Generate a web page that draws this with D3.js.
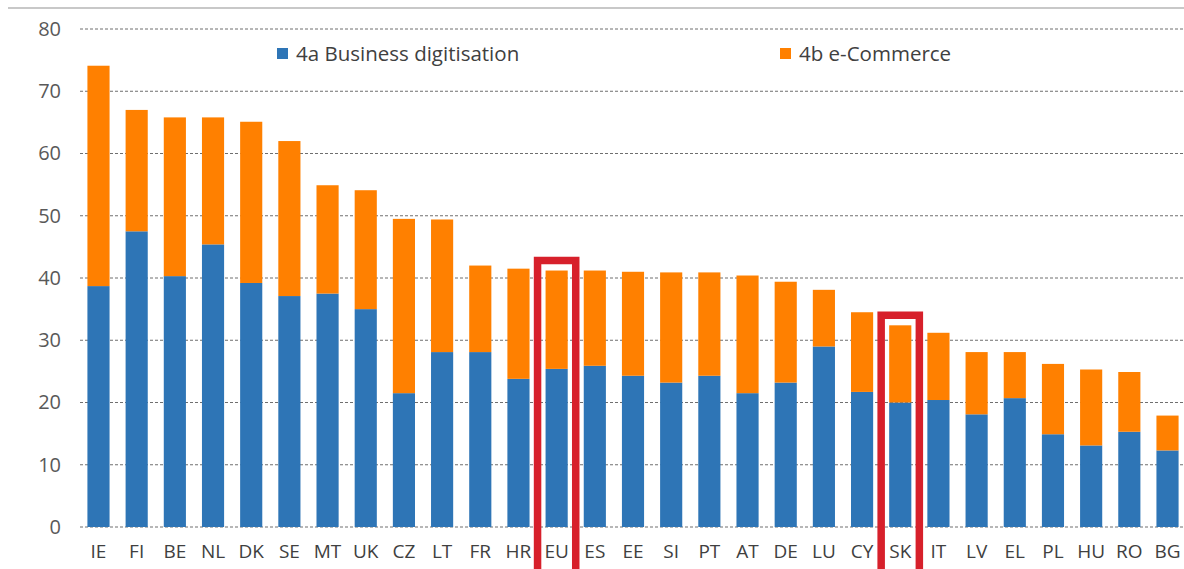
<!DOCTYPE html>
<html><head><meta charset="utf-8">
<script src="https://cdn.jsdelivr.net/npm/d3@7"></script>
<style>
html,body{margin:0;padding:0;background:#fff;}
svg text{font-family:"Open Sans","Liberation Sans",Arial,sans-serif;}
</style></head>
<body>
<script>
const categories = ["IE","FI","BE","NL","DK","SE","MT","UK","CZ","LT","FR","HR","EU","ES","EE","SI","PT","AT","DE","LU","CY","SK","IT","LV","EL","PL","HU","RO","BG"];
const totals =     [74.1,67.0,65.8,65.8,65.1,62.0,54.9,54.1,49.5,49.4,42.0,41.5,41.2,41.2,41.0,40.9,40.9,40.4,39.4,38.1,34.5,32.4,31.2,28.1,28.1,26.2,25.3,24.9,17.9];
const business =   [38.7,47.5,40.3,45.4,39.2,37.1,37.5,35.0,21.5,28.1,28.1,23.8,25.4,25.9,24.3,23.2,24.3,21.5,23.2,29.0,21.7,20.0,20.4,18.1,20.7,14.9,13.1,15.3,12.3];
const ecommerce = totals.map((t,i)=>+(t-business[i]).toFixed(1));
const seriesNames = ["4a Business digitisation","4b e-Commerce"];
const yTicks = [0,10,20,30,40,50,60,70,80];
const highlighted = ["EU","SK"];

const W=1184,H=569;
const svg=d3.select("body").append("svg").attr("width",W).attr("height",H);

const x=d3.scaleBand().domain(categories).range([79.4,1186.6]).paddingInner(0.42).paddingOuter(0.21);
const y=d3.scaleLinear().domain([0,80]).range([527,29]);

// top rule
svg.append("line").attr("x1",8).attr("x2",W).attr("y1",8).attr("y2",8)
  .attr("stroke","#c8c8c8").attr("stroke-width",2);

// gridlines
svg.append("g").selectAll("line").data(yTicks).join("line")
  .attr("x1",80).attr("x2",W).attr("y1",d=>y(d)).attr("y2",d=>y(d))
  .attr("stroke","#6f6f6f").attr("stroke-width",1).attr("stroke-dasharray","3,2");

// y axis labels
const yAxis=d3.axisLeft(y).tickValues(yTicks).tickSize(0).tickPadding(0);
const gy=svg.append("g").attr("transform","translate(61,0)").call(yAxis);
gy.select(".domain").remove();
gy.selectAll("text").attr("font-size",20).attr("fill","#595959");

// bars
const rows=categories.map((c,i)=>({cat:c,b:business[i],e:ecommerce[i]}));
const stack=d3.stack().keys(["b","e"])(rows);
const colors=["#2E75B6","#FF8000"];
svg.append("g").selectAll("g").data(stack).join("g").attr("fill",(d,i)=>colors[i])
  .selectAll("rect").data(d=>d).join("rect")
  .attr("x",d=>x(d.data.cat)).attr("width",x.bandwidth())
  .attr("y",d=>y(d[1])).attr("height",d=>y(d[0])-y(d[1]));

// x axis labels
const xAxis=d3.axisBottom(x).tickSize(0).tickPadding(0);
const gx=svg.append("g").attr("transform","translate(0,544)").call(xAxis);
gx.select(".domain").remove();
gx.selectAll("text").attr("font-size",19).attr("fill","#404040").attr("dy","0.71em");

// red highlight boxes
highlighted.forEach(c=>{
  const i=categories.indexOf(c);
  const cx=x(c)+x.bandwidth()/2, half=x.step()/2;
  const top=y(totals[i])-10;
  svg.append("path")
    .attr("d",`M${cx-half},${H+10}V${top}H${cx+half}V${H+10}`)
    .attr("fill","none").attr("stroke","#D7202B").attr("stroke-width",7.5);
});

// legend
const legX=[277,780];
seriesNames.forEach((n,i)=>{
  const g=svg.append("g").attr("transform",`translate(${legX[i]},48)`);
  g.append("rect").attr("width",11).attr("height",11).attr("fill",colors[i]);
  g.append("text").attr("x",19).attr("y",5.5).attr("dy","0.35em")
    .attr("font-size",20.5).attr("fill","#404040").text(n);
});
</script>
</body></html>
